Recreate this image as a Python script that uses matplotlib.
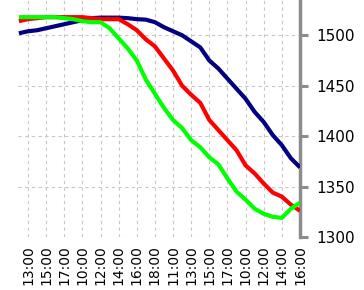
import matplotlib
matplotlib.use("Agg")
import matplotlib.pyplot as plt
import numpy as np

times = ["12:00", "13:00", "14:00", "15:00", "16:00", "17:00", "18:00",
         "10:00", "11:00", "12:00", "13:00", "14:00", "15:00", "16:00", "17:00", "18:00",
         "10:00", "11:00", "12:00", "13:00", "14:00", "15:00", "16:00", "17:00", "18:00",
         "10:00", "11:00", "12:00", "13:00", "14:00", "15:00", "16:00"]

navy_vals = [1502, 1504, 1505, 1507, 1509, 1511, 1513, 1515, 1517, 1517.5, 1517.5, 1517.5,
             1517, 1516, 1515.5, 1513, 1508, 1504, 1500, 1494, 1488, 1475, 1467, 1457,
             1447, 1437, 1424, 1414, 1401, 1391, 1378, 1369]
red_vals = [1514, 1516, 1517, 1518, 1518, 1518, 1518, 1518, 1517, 1516, 1516, 1516,
            1511, 1505, 1496, 1489, 1477, 1465, 1450, 1441, 1433, 1416, 1406, 1396,
            1386, 1371, 1363, 1353, 1344, 1340, 1332, 1326]
green_vals = [1518, 1518, 1518, 1518, 1518, 1517, 1516, 1514, 1513, 1513, 1507, 1497,
              1487, 1475, 1456, 1442, 1428, 1416, 1408, 1396, 1389, 1379, 1372, 1358,
              1345, 1337, 1328, 1323, 1320, 1319, 1328, 1334]

y_ticks = [1300, 1350, 1400, 1450, 1500]

fig = plt.figure(figsize=(3.64, 2.90), dpi=100)
ax = fig.add_axes([18/364, 53/290, (300-18)/364, 237/290])

x = np.arange(len(times))
ax.plot(x, navy_vals, color="#000080", lw=3.0, solid_capstyle="butt", zorder=3)
ax.plot(x, red_vals, color="#ff0000", lw=3.0, solid_capstyle="butt", zorder=4)
ax.plot(x, green_vals, color="#00ff00", lw=3.0, solid_capstyle="butt", zorder=5)

ax.set_xlim(-0.1, 31)
ax.set_ylim(1300, 1535)

tick_idx = list(range(1, len(times), 2))
ax.set_xticks(tick_idx)
ax.set_xticklabels([times[i] for i in tick_idx], rotation=90, fontsize=10,
                   va="top", ha="center")
ax.tick_params(axis="x", length=0, pad=6)

ax.yaxis.tick_right()
ax.set_yticks(y_ticks)
ax.set_yticklabels([str(v) for v in y_ticks], fontsize=11)
ax.tick_params(axis="y", which="both", direction="out", length=6, width=2.2,
               color="#8c8c8c", pad=6, left=False, right=True)

for s in ["left", "top", "bottom"]:
    ax.spines[s].set_visible(False)
ax.spines["right"].set_color("#8c8c8c")
ax.spines["right"].set_linewidth(2.5)

ax.grid(True, color="#c8c8c8", linestyle=(0, (3, 3)), linewidth=0.8)
ax.set_axisbelow(True)
ax.patch.set_alpha(0)

fig.savefig("out.png", dpi=100)
